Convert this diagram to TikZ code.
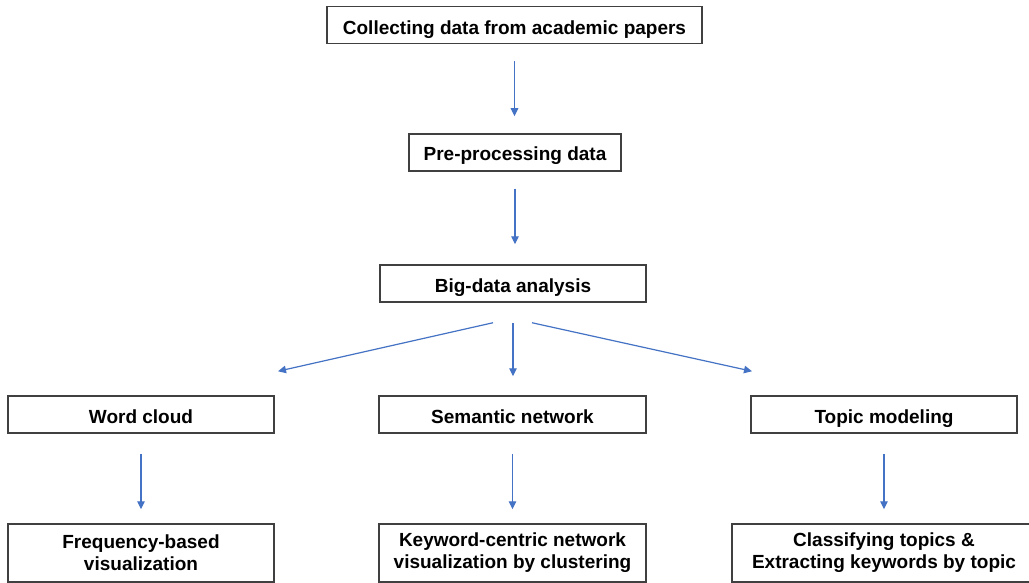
\documentclass[tikz,border=0pt]{standalone}
\usepackage{fontspec}
\setmainfont{Liberation Sans}
\usetikzlibrary{arrows.meta}

\definecolor{flowblue}{RGB}{68,114,196}
\definecolor{boxgray}{RGB}{64,64,64}

\begin{document}
\begin{tikzpicture}[
		x=1pt,
		y=-1pt,
		box/.style={
			draw=boxgray,
			line width=1.5pt,
			fill=white,
			align=center,
			inner sep=0pt,
			minimum height=37pt,
			text height=17pt,
			text depth=0pt,
			font=\fontsize{19}{22}\selectfont\bfseries,
		},
		tallbox/.style={
			box,
			text height=,
			text depth=,
			minimum height=58pt,
		},
		flow/.style={
			draw=flowblue,
			line width=1.2pt,
			-{Triangle[width=7.5pt,length=8pt]},
		},
	]
		\clip (0,0) rectangle (1029,583);
		\fill[white] (0,0) rectangle (1029,583);

		\node[box, minimum width=375pt, text height=19.5pt] (collect) at (514.5,25) {Collecting data from academic papers};
		\node[box, minimum width=212pt] (preproc) at (515,152.5) {Pre-processing data};
		\node[box, minimum width=266pt] (bigdata) at (513,283.5) {Big-data analysis};

		\node[box, minimum width=266pt] (wordcloud) at (141,414.5) {Word cloud};
		\node[box, minimum width=267pt] (semantic) at (512.5,414.5) {Semantic network};
		\node[box, minimum width=266pt] (topic) at (884,414.5) {Topic modeling};

		\node[tallbox, minimum width=266pt] (freq) at (141,553) {Frequency-based\\visualization};
		\node[tallbox, minimum width=267pt] (keyword) at (512.5,553) {Keyword-centric network\\visualization by clustering};
		\node[tallbox, minimum width=304pt] (classify) at (884,553) {Classifying topics \&\\Extracting keywords by topic};

		\draw[flow, shorten <=17pt, shorten >=17pt] (collect.south) -- (collect.south |- preproc.north);
		\draw[flow, shorten <=17pt, shorten >=20pt] (preproc.south) -- (preproc.south |- bigdata.north);

		\draw[flow] ([xshift=-20pt,yshift=-20pt]bigdata.south) -- ([xshift=137pt,yshift=24pt]wordcloud.north);
		\draw[flow, shorten <=20pt, shorten >=19pt] (bigdata.south) -- (bigdata.south |- semantic.north);
		\draw[flow] ([xshift=19pt,yshift=-20pt]bigdata.south) -- ([xshift=-132pt,yshift=24pt]topic.north);

		\draw[flow, shorten <=20pt, shorten >=14pt] (wordcloud.south) -- (freq.north);
		\draw[flow, shorten <=20pt, shorten >=14pt] (semantic.south) -- (keyword.north);
		\draw[flow, shorten <=20pt, shorten >=14pt] (topic.south) -- (classify.north);
	\end{tikzpicture}
\end{document}
